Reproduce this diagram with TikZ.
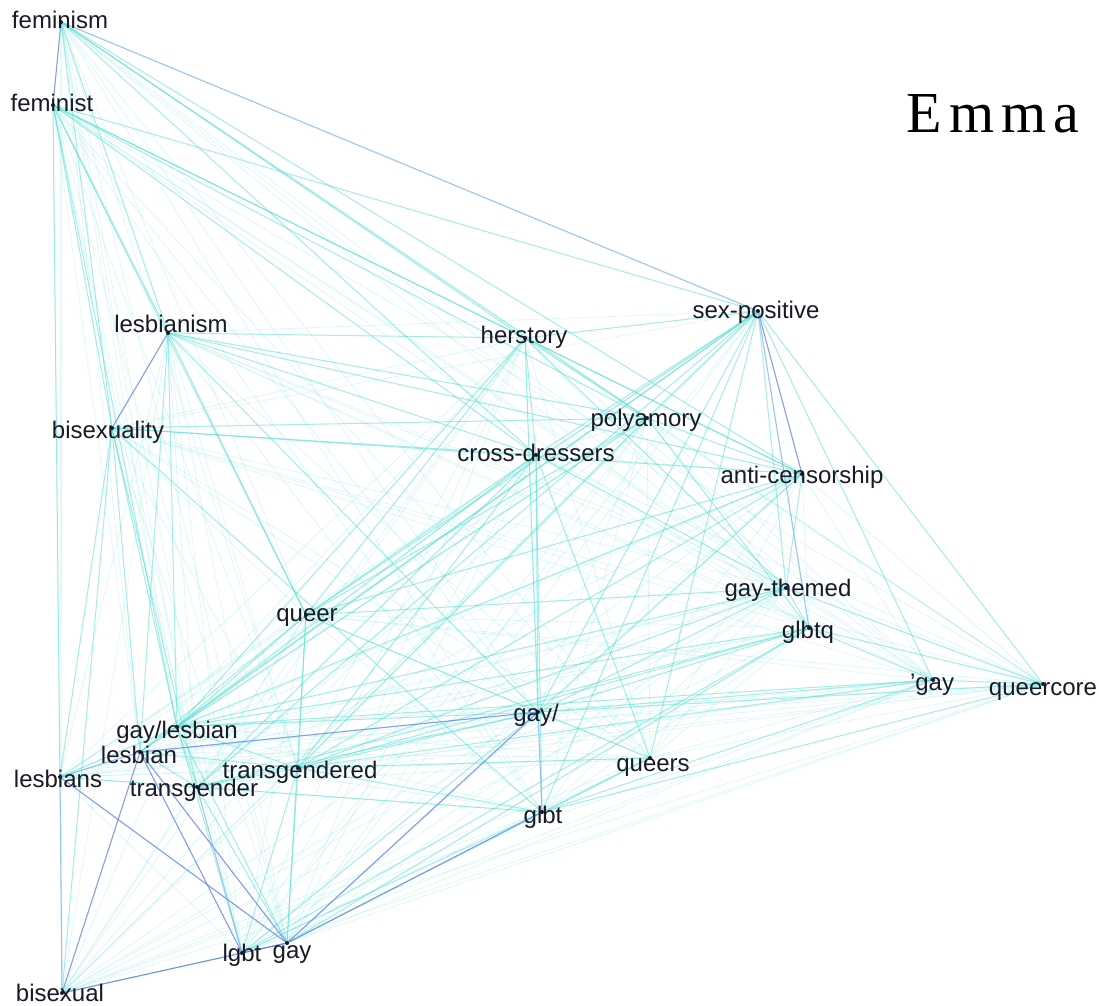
\documentclass[tikz,border=0pt]{standalone}
\usepackage{fontspec}
\setmainfont{Liberation Sans}
\newfontfamily\emmafont[LetterSpace=12]{Liberation Serif}
\definecolor{edgecyan}{RGB}{80,222,212}
\definecolor{edgeblue}{RGB}{95,120,235}
\definecolor{edgelblue}{RGB}{135,180,240}
\definecolor{labcol}{RGB}{25,25,40}
\begin{document}
\begin{tikzpicture}[x=1pt,y=-1pt,
  faint/.style={draw=edgecyan,opacity=0.2,line width=0.7pt},
  strong/.style={draw=edgecyan,opacity=0.42,line width=1pt},
  bluee/.style={draw=edgeblue,opacity=0.7,line width=1.1pt},
  lblue/.style={draw=edgelblue,opacity=0.75,line width=1.1pt},
  lab/.style={font=\fontsize{24}{27}\selectfont,text=labcol,anchor=base,inner sep=0pt},
  dot/.style={circle,fill=labcol,inner sep=0pt,minimum size=4pt}]
\useasboundingbox (0,0) rectangle (1099,1005);
\fill[white] (0,0) rectangle (1099,1005);
% node positions
\coordinate (fem) at (61,22);
\coordinate (femt) at (53,105);
\coordinate (lesm) at (168,333);
\coordinate (bisy) at (112,428);
\coordinate (hers) at (525,338);
\coordinate (sexp) at (758,311);
\coordinate (poly) at (647,418);
\coordinate (cros) at (536,455);
\coordinate (anti) at (802,474);
\coordinate (gayt) at (786,588);
\coordinate (glbq) at (809,628);
\coordinate (qgay) at (933,680);
\coordinate (qcor) at (1043,684);
\coordinate (quer) at (306,615);
\coordinate (gays) at (538,712);
\coordinate (gayl) at (177,727);
\coordinate (lesn) at (140,752);
\coordinate (trgd) at (298,768);
\coordinate (lesb) at (60,777);
\coordinate (trgr) at (197,787);
\coordinate (qurs) at (650,758);
\coordinate (glbt) at (542,812);
\coordinate (lgbt) at (242,953);
\coordinate (gay) at (287,943);
\coordinate (bisx) at (62,993);
% all faint edges
\foreach \a [count=\i] in {fem,femt,lesm,bisy,hers,sexp,poly,cros,anti,gayt,glbq,qgay,qcor,quer,gays,gayl,lesn,trgd,lesb,trgr,qurs,glbt,lgbt,gay,bisx}{
  \foreach \b [count=\j] in {fem,femt,lesm,bisy,hers,sexp,poly,cros,anti,gayt,glbq,qgay,qcor,quer,gays,gayl,lesn,trgd,lesb,trgr,qurs,glbt,lgbt,gay,bisx}{
    \ifnum\j>\i \draw[faint] (\a) -- (\b); \fi
  }
}
% stronger cyan edges
\foreach \a/\b in {fem/hers,fem/lesm,fem/bisy,fem/poly,fem/anti,fem/cros,
  femt/hers,femt/lesm,femt/bisy,femt/lesb,femt/gayl,femt/cros,femt/poly,femt/quer,femt/sexp,femt/anti,
  lesm/hers,lesm/quer,lesm/cros,lesm/gayl,lesm/lesn,lesm/poly,lesm/gays,lesm/anti,
  bisy/gayl,bisy/lesn,bisy/trgr,bisy/lesb,bisy/bisx,bisy/cros,bisy/anti,bisy/glbt,bisy/poly,
  hers/cros,hers/gays,hers/poly,hers/gayt,hers/anti,hers/gayl,hers/quer,
  sexp/quer,sexp/gayl,sexp/trgr,sexp/lesn,sexp/poly,sexp/cros,sexp/gayt,sexp/qgay,sexp/qcor,sexp/gays,sexp/qurs,sexp/glbt,sexp/hers,
  cros/gayl,cros/trgd,cros/trgr,cros/glbt,cros/gays,cros/gayt,cros/qurs,cros/quer,
  poly/quer,poly/gayl,poly/glbq,poly/anti,poly/trgd,
  anti/gayt,anti/quer,anti/gays,anti/trgd,anti/gayl,
  gayt/gays,gayt/quer,gayt/trgd,gayt/glbq,gayt/qcor,gayt/gayl,
  glbq/gays,glbq/qgay,glbq/qcor,glbq/trgd,glbq/gayl,glbq/lgbt,glbq/trgr,
  qgay/gays,qgay/qcor,qgay/trgd,qgay/glbt,qgay/gayl,qcor/glbt,qcor/gays,
  quer/gayl,quer/trgd,quer/gay,quer/gays,quer/lesn,
  gays/gayl,gays/trgd,gays/qurs,gays/lgbt,gays/trgr,
  gayl/lesn,gayl/trgd,gayl/trgr,gayl/gay,gayl/lgbt,
  lesn/lesb,lesn/trgr,lesn/trgd,
  trgd/trgr,trgd/glbt,trgd/gay,trgd/lgbt,trgd/qurs,
  trgr/glbt,trgr/gay,lesb/trgr,lesb/gayl,
  glbt/lgbt,glbt/qurs,lgbt/bisx,gay/qurs,gay/glbq}{
  \draw[strong] (\a) -- (\b);
}
% blue edges
\draw[bluee] (fem) -- (femt);
\draw[lblue] (fem) -- (sexp);
\draw[bluee] (lesm) -- (bisy);
\draw[bluee] (sexp) -- (anti);
\draw[lblue] (sexp) -- (glbq);
\draw[bluee] (lesn) -- (gays);
\draw[bluee] (lesn) -- (lgbt);
\draw[bluee] (lesn) -- (gay);
\draw[bluee] (lesb) -- (gay);
\draw[bluee] (bisx) -- (lesn);
\draw[lblue] (bisx) -- (lesb);
\draw[bluee] (bisx) -- (gay);
\draw[bluee] (gay) -- (gays);
\draw[bluee] (gay) -- (glbt);
\draw[lblue] (gays) -- (glbt);
\draw[bluee] (lgbt) -- (gay);
\draw[lblue] (trgr) -- (lgbt);
\draw[lblue] (lesb) -- (lesn);
% labels
\node[lab] (fem-l) at (60,28) {feminism};
\node[lab] (femt-l) at (52,111) {feminist};
\node[lab] (lesm-l) at (171,332) {lesbianism};
\node[lab] (bisy-l) at (108,438) {bisexuality};
\node[lab] (hers-l) at (524,343) {herstory};
\node[lab] (sexp-l) at (756,318) {sex-positive};
\node[lab] (poly-l) at (646,426) {polyamory};
\node[lab] (cros-l) at (536,461) {cross-dressers};
\node[lab] (anti-l) at (802,483) {anti-censorship};
\node[lab] (gayt-l) at (788,596) {gay-themed};
\node[lab] (glbq-l) at (808,638) {glbtq};
\node[lab] (qgay-l) at (932,690) {'gay};
\node[lab] (qcor-l) at (1043,695) {queercore};
\node[lab] (quer-l) at (307,621) {queer};
\node[lab] (gays-l) at (536,721) {gay/};
\node[lab] (gayl-l) at (177,738) {gay/lesbian};
\node[lab] (lesn-l) at (139,763) {lesbian};
\node[lab] (trgd-l) at (300,778) {transgendered};
\node[lab] (lesb-l) at (58,787) {lesbians};
\node[lab] (trgr-l) at (194,796) {transgender};
\node[lab] (qurs-l) at (653,771) {queers};
\node[lab] (glbt-l) at (543,823) {glbt};
\node[lab] (lgbt-l) at (242,961) {lgbt};
\node[lab] (gay-l) at (292,958) {gay};
\node[lab] (bisx-l) at (60,1001) {bisexual};
% dots
\foreach \n in {fem,femt,lesm,bisy,hers,sexp,poly,cros,anti,gayt,glbq,qgay,qcor,quer,gays,gayl,lesn,trgd,lesb,trgr,qurs,glbt,lgbt,gay,bisx}{
  \node[dot] (\n-d) at (\n) {};
}
% title
\node[font=\emmafont\fontsize{58}{60}\selectfont,anchor=base,inner sep=0pt] (title) at (993,132) {Emma};
\end{tikzpicture}
\end{document}
